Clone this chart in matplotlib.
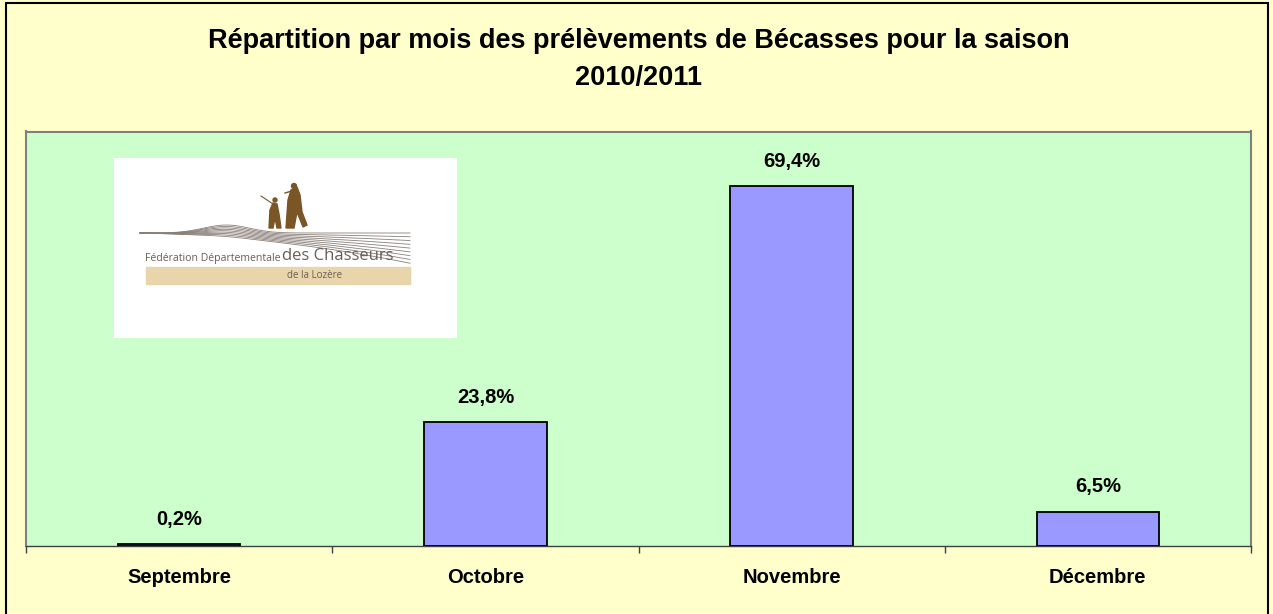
import matplotlib
matplotlib.use("Agg")
import matplotlib.pyplot as plt
import matplotlib.patches as mpatches
import numpy as np

# ── Data ──────────────────────────────────────────────────────────────────
months = ["Septembre", "Octobre", "Novembre", "Décembre"]
shares = [0.2, 23.8, 69.4, 6.5]
share_labels = ["0,2%", "23,8%", "69,4%", "6,5%"]
title_lines = ["Répartition par mois des prélèvements de Bécasses pour la saison",
               "2010/2011"]

# ── Colours ───────────────────────────────────────────────────────────────
PAGE = "#FFFFCC"
PLOT = "#CCFFCC"
BAR  = "#9999FF"
GRID = "#808080"
LOGO_TXT = "#6b5d52"
LOGO_TAN = "#e9d5ab"
LOGO_FIG = "#7a5526"

plt.rcParams["font.family"] = ["Liberation Sans", "DejaVu Sans"]

W, H = 1273, 614
fig = plt.figure(figsize=(W / 100, H / 100), dpi=100, facecolor=PAGE)

# outer chart frame
fig.patches.append(mpatches.Rectangle((6 / W, -0.01), 1262 / W, 611 / H + 0.01,
                                      transform=fig.transFigure, fill=False,
                                      edgecolor="black", lw=1.5))

for i, line in enumerate(title_lines):
    fig.text(639 / W, 1 - (48 + 37 * i) / H, line, ha="center", va="baseline",
             fontsize=19.5, fontweight="bold", color="black")

# ── Main plot ─────────────────────────────────────────────────────────────
ax = fig.add_axes([26 / W, (H - 545.5) / H, 1225 / W, 414 / H])
ax.set_facecolor(PLOT)
x = np.arange(len(months))
ax.bar(x, shares, width=0.40, color=BAR, edgecolor="black", linewidth=1.3, zorder=3)
for xi, v, lab in zip(x, shares, share_labels):
    ax.annotate(lab, (xi, v), xytext=(0, 14), textcoords="offset points",
                ha="center", va="baseline", fontsize=14.5, fontweight="bold")

ax.set_xlim(-0.5, len(months) - 0.5)
ax.set_ylim(0, 80)
ax.set_yticks([])
ax.set_xticks(x)
ax.set_xticklabels(months, fontsize=14.5, fontweight="bold")
ax.tick_params(axis="x", which="major", length=0, pad=16)
ax.set_xticks(np.arange(-0.5, len(months)), minor=True)
ax.tick_params(axis="x", which="minor", length=5, width=1, color="#404040",
               direction="out")
for side in ["left", "top", "right"]:
    ax.spines[side].set_color(GRID)
    ax.spines[side].set_linewidth(1.5)
ax.spines["bottom"].set_color("#404040")
ax.spines["bottom"].set_linewidth(1)

# ── Logo box (drawn, pixel coordinates) ───────────────────────────────────
lx0, ly0, lx1, ly1 = 114, 158, 457, 338
lg = fig.add_axes([lx0 / W, (H - ly1) / H, (lx1 - lx0) / W, (ly1 - ly0) / H])
lg.set_xlim(lx0, lx1)
lg.set_ylim(ly1, ly0)
lg.set_facecolor("white")
lg.set_xticks([]); lg.set_yticks([])
for s in lg.spines.values():
    s.set_visible(False)

# field lines converging toward the walkers
t = np.linspace(0, 1, 60)
for k in range(9):
    xs = 140 + 270 * t
    ys = 233 - 8 * np.exp(-((t - 0.32) / 0.12) ** 2) * (1 - k / 9) + 7 * k / 9 * t + 0.5 * k * t ** 2 * 6
    lg.plot(xs, ys, color="#8a7f78", lw=0.6)
# walkers
lg.add_patch(mpatches.Polygon([(286, 228), (288, 200), (291, 190), (297, 187), (300, 195),
                               (302, 212), (307, 225), (303, 227), (297, 212), (294, 228)],
                              closed=True, color=LOGO_FIG))
lg.add_patch(mpatches.Circle((294, 186), 2.5, color=LOGO_FIG))
lg.add_patch(mpatches.Polygon([(269, 228), (270, 210), (273, 203), (277, 204), (279, 214),
                               (281, 228), (277, 228), (275, 218), (273, 228)],
                              closed=True, color=LOGO_FIG))
lg.add_patch(mpatches.Circle((275, 200), 2, color=LOGO_FIG))
lg.plot([261, 273], [196, 204], color=LOGO_FIG, lw=0.8)
lg.plot([285, 295], [193, 190], color=LOGO_FIG, lw=1.0)

lg.text(145, 258, "Fédération Départementale", fontsize=7.6, color=LOGO_TXT,
        family=["Open Sans", "DejaVu Sans"], va="center")
lg.text(282, 256, "des Chasseurs", fontsize=12, color=LOGO_TXT,
        family=["Open Sans", "DejaVu Sans"], va="center")
lg.add_patch(mpatches.Rectangle((146, 267), 264, 17, color=LOGO_TAN))
lg.text(315, 275.5, "de la Lozère", fontsize=7, color=LOGO_TXT,
        family=["Open Sans", "DejaVu Sans"], va="center", ha="center")

fig.savefig("out.png", dpi=100, facecolor=PAGE)
